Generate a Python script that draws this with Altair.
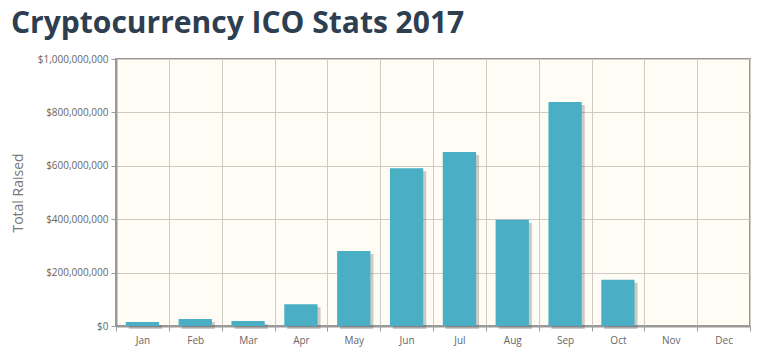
import altair as alt
import pandas as pd

months = ["Jan", "Feb", "Mar", "Apr", "May", "Jun", "Jul", "Aug", "Sep", "Oct", "Nov", "Dec"]
raised = [15e6, 26e6, 19e6, 81e6, 281e6, 591e6, 652e6, 398e6, 839e6, 173e6, 0, 0]
y_ticks = [0, 2e8, 4e8, 6e8, 8e8, 1e9]

df = pd.DataFrame({"month": months, "raised": raised})

x = alt.X("month:N", sort=months, title=None,
          scale=alt.Scale(paddingInner=0, paddingOuter=0),
          axis=alt.Axis(labelAngle=0, tickBand="extent", gridColor="#cfcac2", grid=True,
                        labelFont="Open Sans", labelFontSize=10, labelColor="#666",
                        tickColor="#999", tickSize=5, labelPadding=4,
                        domainColor="#999", domainWidth=2))
y = alt.Y("raised:Q", title="Total Raised",
          scale=alt.Scale(domain=[0, 1e9], nice=False),
          axis=alt.Axis(format="$,.0f", values=y_ticks, labelOverlap=False, labelFlush=False,
                        labelFont="Open Sans", labelFontSize=10, labelColor="#666",
                        titleFont="Open Sans", titleFontSize=14, titleFontWeight="normal",
                        titleColor="#777", titlePadding=12,
                        gridColor="#cfcac2", tickColor="#999", tickSize=5, labelPadding=3,
                        domainColor="#999", domainWidth=2))

shadow = alt.Chart(df).mark_bar(color="#555", opacity=0.3, width=alt.RelativeBandSize(0.63)).encode(
    x=x, y=y, xOffset=alt.value(3), yOffset=alt.value(3))
bars = alt.Chart(df).mark_bar(color="#4aafc5", width=alt.RelativeBandSize(0.63)).encode(x=x, y=y)

chart = alt.layer(shadow, bars).properties(
    width=634, height=267,
    title=alt.TitleParams("Cryptocurrency ICO Stats 2017", font="Open Sans", fontSize=30,
                          fontWeight="bold", color="#2d3e50", anchor="start", frame="group",
                          dx=-105, offset=15),
    autosize=alt.AutoSizeParams(type="none"),
    padding={"left": 108, "top": 51, "right": 6, "bottom": 21},
).configure_view(fill="#fffcf5", stroke="#999", strokeWidth=2)

chart.save("out.html", embed_options={"renderer": "svg", "actions": False})
